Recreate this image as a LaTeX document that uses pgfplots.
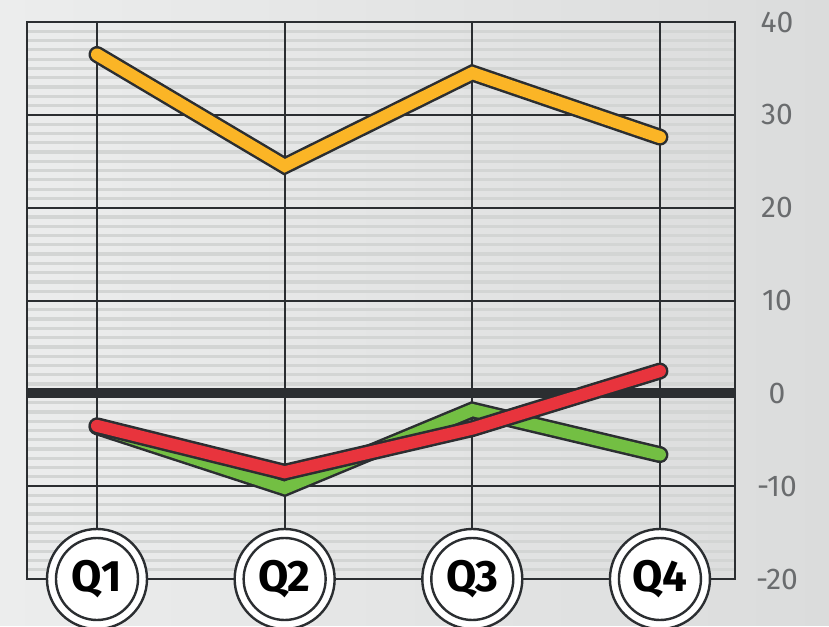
\documentclass[border=0pt]{standalone}
\usepackage{pgfplots}
\pgfplotsset{compat=1.18}
\usepackage{fontspec}
\setmainfont{Fira Sans}
\definecolor{bgL}{HTML}{ECEDED}
\definecolor{bgR}{HTML}{DBDCDC}
\definecolor{stripe}{HTML}{D3D5D4}
\definecolor{darkg}{HTML}{2B2E31}
\definecolor{tickc}{HTML}{6A6C6E}
\definecolor{cOrange}{HTML}{FBB526}
\definecolor{cGreen}{HTML}{73BF43}
\definecolor{cRed}{HTML}{E8343D}
\begin{document}
\begin{tikzpicture}
\shade[left color=bgL, right color=bgR] (-13.5pt,-23.5pt) rectangle (401pt,289.5pt);
\path[use as bounding box] (-13.5pt,-23.5pt) rectangle (401pt,289.5pt);
\begin{axis}[
  at={(0,0)}, anchor=south west,
  scale only axis, width=354pt, height=278.5pt,
  xmin=0.627, xmax=4.4, ymin=-20, ymax=40,
  xtick={1,2,3,4}, xticklabels={},
  ytick={-20,-10,0,10,20,30,40},
  minor y tick num=9,
  yticklabel pos=right,
  /pgf/number format/assume math mode=true,
  yticklabel style={anchor=center, xshift=21pt, font=\fontsize{15}{15}\selectfont, text=tickc},
  tick style={draw=none},
  major tick length=0pt, minor tick length=0pt,
  ymajorgrids, yminorgrids,
  major grid style={draw=darkg, line width=1pt},
  minor grid style={draw=stripe, line width=1.6pt},
  axis line style={draw=darkg, line width=1pt},
  clip=false,
  axis on top=false,
]
\foreach \q in {1,2,3,4}{
  \edef\tmp{\noexpand\draw[darkg, line width=1pt] (axis cs:\q,-20) -- (axis cs:\q,40);}
  \tmp
}
\draw[darkg, line width=5pt] (axis cs:0.627,0) -- (axis cs:4.4,0);
% orange
\addplot[darkg, line width=8.5pt, line cap=round, line join=miter] coordinates {(1,36.5) (2,24.5) (3,34.5) (4,27.6)};
\addplot[cOrange, line width=6pt, line cap=round, line join=miter] coordinates {(1,36.5) (2,24.5) (3,34.5) (4,27.6)};
% green
\addplot[darkg, line width=8.5pt, line cap=round, line join=miter] coordinates {(1,-3.6) (2,-10.2) (3,-1.8) (4,-6.6)};
\addplot[cGreen, line width=6pt, line cap=round, line join=miter] coordinates {(1,-3.6) (2,-10.2) (3,-1.8) (4,-6.6)};
% red
\addplot[darkg, line width=8.5pt, line cap=round, line join=miter] coordinates {(1,-3.5) (2,-8.5) (3,-3.8) (4,2.4)};
\addplot[cRed, line width=6pt, line cap=round, line join=miter] coordinates {(1,-3.5) (2,-8.5) (3,-3.8) (4,2.4)};
\foreach \q in {1,2,3,4}{
  \edef\tmp{\noexpand\draw[darkg, line width=1.2pt, fill=white] (axis cs:\q,-20) circle[radius=25pt];
  \noexpand\draw[darkg, line width=1.2pt] (axis cs:\q,-20) circle[radius=20.5pt];
  \noexpand\node[font=\noexpand\bfseries\noexpand\fontsize{22}{22}\noexpand\selectfont, text=black, inner sep=0pt] at (axis cs:\q,-20) {Q\q};}
  \tmp
}
\end{axis}
\end{tikzpicture}
\end{document}
